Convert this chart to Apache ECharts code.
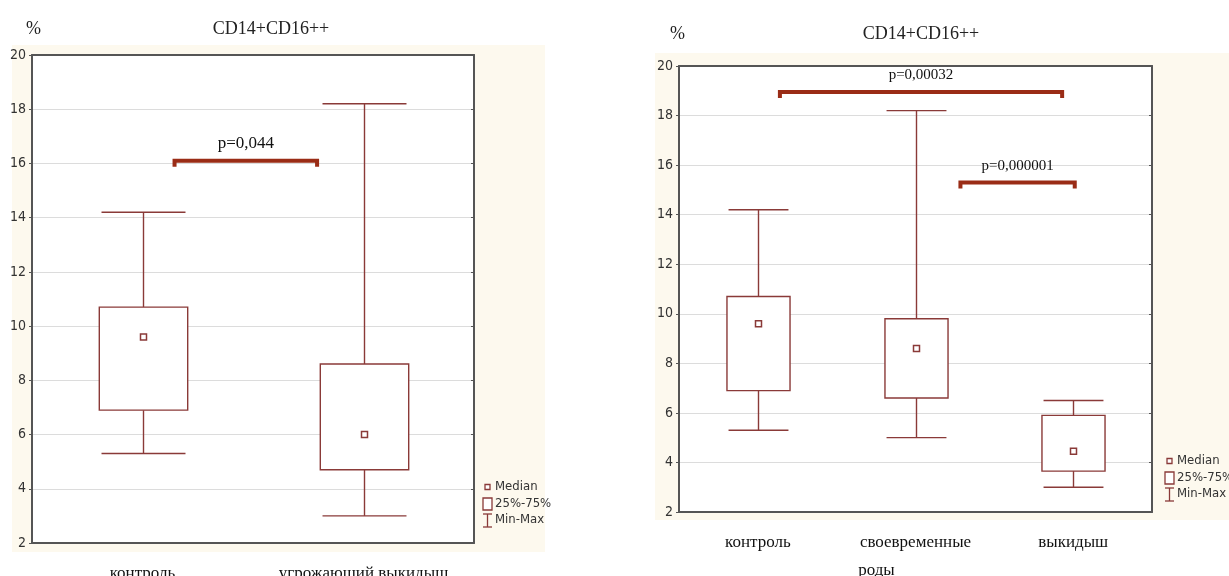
<!DOCTYPE html>
<html>
<head>
<meta charset="utf-8">
<script src="https://cdn.jsdelivr.net/npm/echarts@6/dist/echarts.min.js"></script>
<style>
  html, body { margin: 0; padding: 0; background: #fff; }
  #chart { width: 1229px; height: 576px; }
</style>
</head>
<body>
<div id="chart"></div>
<script>
// левый график: контроль vs угрожающий выкидыш
var leftCats = ['контроль', 'угрожающий выкидыш']
var leftMin = [5.3, 3.0]
var leftQ1 = [6.9, 4.7]
var leftMedian = [9.6, 6.0]
var leftQ3 = [10.7, 8.6]
var leftMax = [14.2, 18.2]
// [from, to (в долях категорий), y, подпись]
var leftBrackets = [[0.145, 0.79, 16.1, 'p=0,044']]

// правый график
var rightCats = ['контроль', 'своевременные\nроды', 'выкидыш']
var rightMin = [5.3, 5.0, 3.0]
var rightQ1 = [6.9, 6.6, 3.65]
var rightMedian = [9.6, 8.6, 4.45]
var rightQ3 = [10.7, 9.8, 5.9]
var rightMax = [14.2, 18.2, 6.5]
var rightBrackets = [
  [0.14, 1.93, 18.95, 'p=0,00032'],
  [1.285, 2.01, 15.3, 'p=0,000001']
]

var yTicks = [2, 4, 6, 8, 10, 12, 14, 16, 18, 20]
var legendItems = ['Median', '25%-75%', 'Min-Max']

var BOX = '#8a3a38'
var BRACKET = '#9a2c16'
var SERIF = '"Liberation Serif", "DejaVu Serif", serif'
var NARROW = '"Liberation Sans Narrow", "DejaVu Sans Condensed", "Liberation Sans", sans-serif'

function rows(mins, q1, med, q3, max) {
  return mins.map(function(v, i) { return [i, v, q1[i], med[i], q3[i], max[i]] })
}

function boxRender(params, api) {
  var i = api.value(0)
  var lo = api.coord([i, api.value(1)])
  var q1 = api.coord([i, api.value(2)])
  var md = api.coord([i, api.value(3)])
  var q3 = api.coord([i, api.value(4)])
  var hi = api.coord([i, api.value(5)])
  var band = api.size([1, 0])[0]
  var bw = band * 0.4
  var cw = band * 0.19
  var x = Math.round(lo[0]) + 0.5
  var st = { stroke: BOX, lineWidth: 1.4, fill: null }
  return {
    type: 'group',
    children: [
      { type: 'line', shape: { x1: x, y1: hi[1], x2: x, y2: q3[1] }, style: st },
      { type: 'line', shape: { x1: x, y1: q1[1], x2: x, y2: lo[1] }, style: st },
      { type: 'line', shape: { x1: x - cw, y1: hi[1], x2: x + cw, y2: hi[1] }, style: st },
      { type: 'line', shape: { x1: x - cw, y1: lo[1], x2: x + cw, y2: lo[1] }, style: st },
      { type: 'rect', shape: { x: x - bw / 2, y: q3[1], width: bw, height: q1[1] - q3[1] },
        style: { stroke: BOX, lineWidth: 1.4, fill: '#fff' } },
      { type: 'rect', shape: { x: x - 3, y: md[1] - 3, width: 6, height: 6 },
        style: { stroke: BOX, lineWidth: 1.5, fill: '#fff' } }
    ]
  }
}

function bracketRender(fontSize) {
  return function(params, api) {
    var y = api.value(2)
    var base = api.coord([0, y])
    var band = api.size([1, 0])[0]
    var x0 = base[0] + api.value(0) * band
    var x1 = base[0] + api.value(1) * band
    var py = base[1]
    return {
      type: 'group',
      children: [
        { type: 'polyline', shape: { points: [[x0, py + 6], [x0, py], [x1, py], [x1, py + 6]] },
          style: { stroke: BRACKET, lineWidth: 4, fill: null } },
        { type: 'text', x: (x0 + x1) / 2, y: py - 9,
          style: { text: api.value(3), fill: '#111', font: fontSize + 'px ' + SERIF,
            align: 'center', verticalAlign: 'bottom' } }
      ]
    }
  }
}

function legend(x, y) {
  var t = { fill: '#333', font: '13px ' + NARROW, verticalAlign: 'middle' }
  return [
    { type: 'rect', shape: { x: x + 2, y: y - 2.5, width: 5, height: 5 }, style: { stroke: BOX, lineWidth: 1.3, fill: '#fff' } },
    { type: 'rect', shape: { x: x, y: y + 11, width: 9, height: 12 }, style: { stroke: BOX, lineWidth: 1.3, fill: '#fff' } },
    { type: 'polyline', shape: { points: [[x, y + 27], [x + 9, y + 27]] }, style: { stroke: BOX, lineWidth: 1.3 } },
    { type: 'polyline', shape: { points: [[x + 4.5, y + 27], [x + 4.5, y + 40]] }, style: { stroke: BOX, lineWidth: 1.3 } },
    { type: 'polyline', shape: { points: [[x, y + 40], [x + 9, y + 40]] }, style: { stroke: BOX, lineWidth: 1.3 } },
    { type: 'text', x: x + 12, y: y, style: Object.assign({ text: legendItems[0] }, t) },
    { type: 'text', x: x + 12, y: y + 16.5, style: Object.assign({ text: legendItems[1] }, t) },
    { type: 'text', x: x + 12, y: y + 33, style: Object.assign({ text: legendItems[2] }, t) }
  ]
}

function bottomAxis(cats, grid, margin) {
  return {
    type: 'category', gridIndex: grid, data: cats, position: 'bottom',
    axisLine: { lineStyle: { color: '#555', width: 2 } },
    axisTick: { inside: true, length: 4, alignWithLabel: true, lineStyle: { color: '#555' } },
    axisLabel: {
      interval: 0, hideOverlap: false,
      color: '#111', fontFamily: SERIF, fontSize: 17, margin: margin, lineHeight: 28,
      formatter: function(v) {
        var p = v.split('\n')
        return p.length > 1 ? '{a|' + p[0] + '}\n{b|' + p[1] + '}' : v
      },
      rich: {
        a: { fontFamily: SERIF, fontSize: 17, color: '#111', lineHeight: 28 },
        b: { fontFamily: SERIF, fontSize: 17, color: '#111', lineHeight: 28, padding: [0, 78, 0, 0] }
      }
    },
    splitLine: { show: false }
  }
}

function topAxis(cats, grid) {
  return {
    type: 'category', gridIndex: grid, data: cats, position: 'top',
    axisLine: { lineStyle: { color: '#555', width: 2 } },
    axisTick: { inside: true, length: 3, alignWithLabel: true, lineStyle: { color: '#555' } },
    axisLabel: { show: false }
  }
}

function leftAxis(grid) {
  return {
    type: 'value', gridIndex: grid, min: 2, max: 20, interval: 2, position: 'left',
    axisLine: { show: true, lineStyle: { color: '#555', width: 2 } },
    axisTick: { show: true, length: 3, lineStyle: { color: '#555' } },
    axisLabel: {
      color: '#333', fontFamily: NARROW, fontSize: 14, margin: 6,
      formatter: function(v) { return yTicks.indexOf(v) >= 0 ? String(v) : '' }
    },
    splitLine: { show: true, lineStyle: { color: '#dcdcdc', width: 1 } }
  }
}

function rightAxis(grid) {
  return {
    type: 'value', gridIndex: grid, min: 2, max: 20, interval: 2, position: 'right',
    axisLine: { show: true, lineStyle: { color: '#555', width: 2 } },
    axisTick: { show: true, inside: true, length: 3, lineStyle: { color: '#555' } },
    axisLabel: { show: false },
    splitLine: { show: false }
  }
}

var chart = echarts.init(document.getElementById('chart'), null, { renderer: 'canvas' })
chart.setOption({
  backgroundColor: '#fff',
  animation: false,
  title: [
    { text: '%', left: 21, top: 15, textStyle: { fontFamily: SERIF, fontSize: 18, fontWeight: 'normal', color: '#222' } },
    { text: 'CD14+CD16++', left: 266, top: 15, textAlign: 'center',
      textStyle: { fontFamily: SERIF, fontSize: 18, fontWeight: 'normal', color: '#222' } },
    { text: '%', left: 665, top: 20, textStyle: { fontFamily: SERIF, fontSize: 18, fontWeight: 'normal', color: '#222' } },
    { text: 'CD14+CD16++', left: 916, top: 20, textAlign: 'center',
      textStyle: { fontFamily: SERIF, fontSize: 18, fontWeight: 'normal', color: '#222' } }
  ],
  graphic: [
    { type: 'rect', z: -100, shape: { x: 12, y: 45, width: 533, height: 507 }, style: { fill: '#fdf9ee' } },
    { type: 'rect', z: -100, shape: { x: 655, y: 53, width: 574, height: 467 }, style: { fill: '#fdf9ee' } }
  ].concat(legend(483, 487)).concat(legend(1165, 461)),
  grid: [
    { left: 32, top: 55, width: 442, height: 488, show: true, backgroundColor: '#fff', borderWidth: 0,
      containLabel: false, outerBoundsMode: 'none' },
    { left: 679, top: 66, width: 473, height: 446, show: true, backgroundColor: '#fff', borderWidth: 0,
      containLabel: false, outerBoundsMode: 'none' }
  ],
  xAxis: [
    bottomAxis(leftCats, 0, 17),
    topAxis(leftCats, 0),
    bottomAxis(rightCats, 1, 17),
    topAxis(rightCats, 1)
  ],
  yAxis: [
    leftAxis(0),
    rightAxis(0),
    leftAxis(1),
    rightAxis(1)
  ],
  series: [
    {
      type: 'custom', xAxisIndex: 0, yAxisIndex: 0,
      renderItem: boxRender,
      encode: { x: 0, y: [1, 2, 3, 4, 5] },
      data: rows(leftMin, leftQ1, leftMedian, leftQ3, leftMax)
    },
    {
      type: 'custom', xAxisIndex: 0, yAxisIndex: 0,
      renderItem: bracketRender(17),
      encode: { y: 2 },
      data: leftBrackets
    },
    {
      type: 'custom', xAxisIndex: 2, yAxisIndex: 2,
      renderItem: boxRender,
      encode: { x: 0, y: [1, 2, 3, 4, 5] },
      data: rows(rightMin, rightQ1, rightMedian, rightQ3, rightMax)
    },
    {
      type: 'custom', xAxisIndex: 2, yAxisIndex: 2,
      renderItem: bracketRender(15),
      encode: { y: 2 },
      data: rightBrackets
    }
  ]
})
</script>
</body>
</html>
